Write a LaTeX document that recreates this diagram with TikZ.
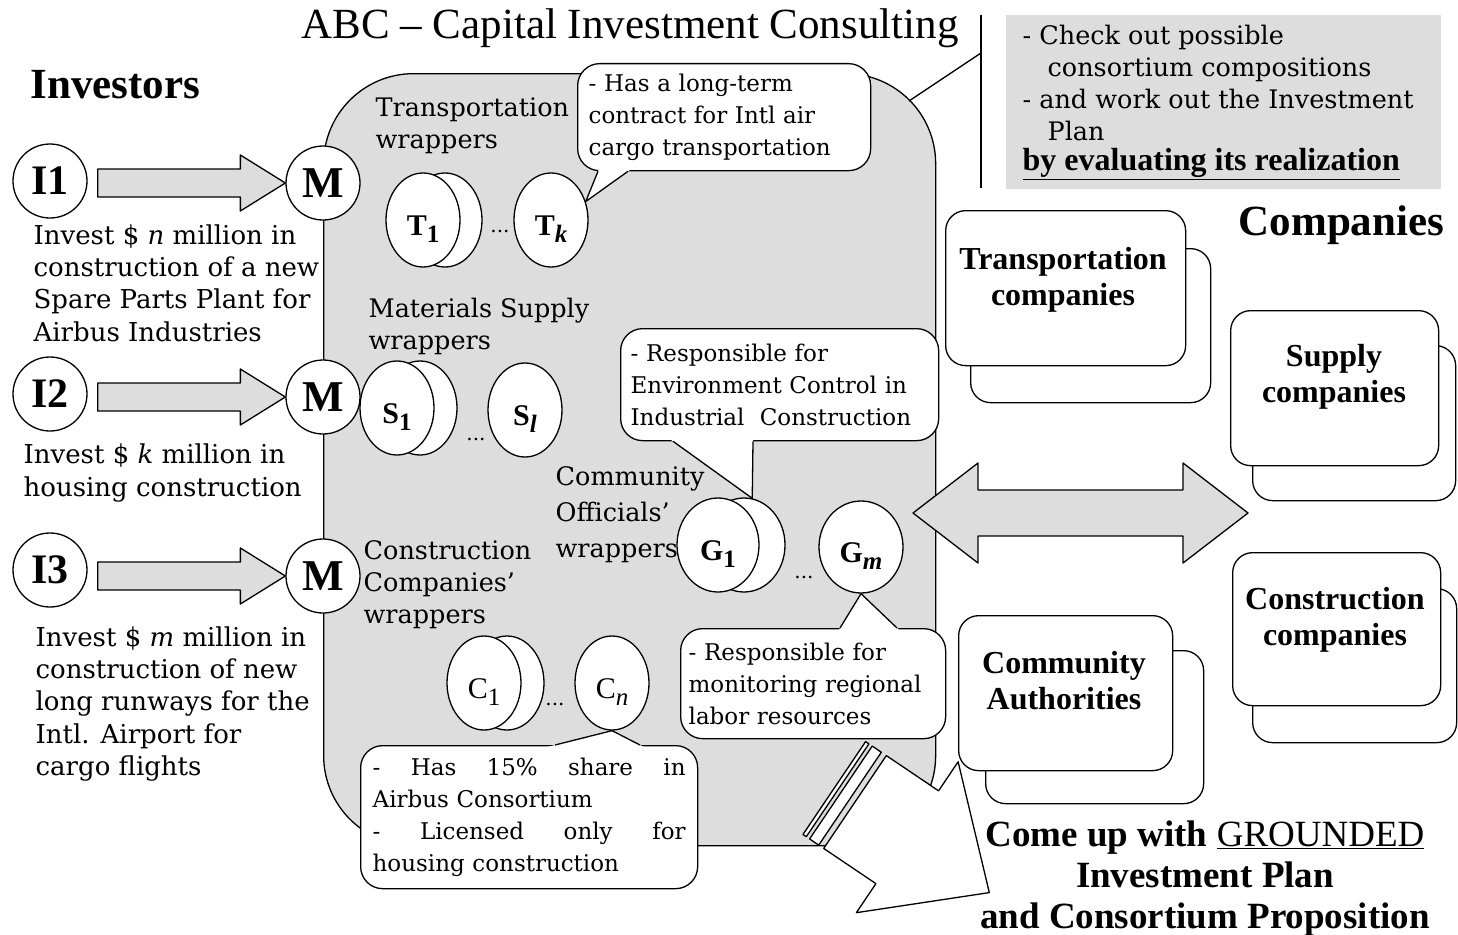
\documentclass[tikz,border=0pt]{standalone}
\usepackage{fontspec}
\setmainfont{DejaVu Serif}
\newfontfamily\tnr{Liberation Serif}
\usetikzlibrary{shapes.geometric,calc}
\definecolor{panel}{RGB}{221,221,221}
\newcommand\fs[2]{\fontsize{#1}{#2}\selectfont}
% block arrow from an investor circle to its manager circle
\newcommand\feedarrow[2]{%
  \draw[fill=panel] ($(#1.east |- #2.west)+(10,-14)$) -- ($(#2.west)+(-45,-14)$)
    -- ($(#2.west)+(-45,-28)$) -- (#2.west) -- ($(#2.west)+(-45,28)$)
    -- ($(#2.west)+(-45,14)$) -- ($(#1.east |- #2.west)+(10,14)$) -- cycle;}
% wedge of a callout: base points #1, #2 on the box edge, tip #3
\newcommand\notepointer[3]{%
  \fill[white] ($(#1)!-0.15!(#3)$) -- (#3) -- ($(#2)!-0.15!(#3)$) -- cycle;
  \draw (#1) -- (#3) -- (#2);}
% wrapper labels: bold letter with lowered index
\newcommand\wl[2]{{\tnr\bfseries\fs{30}{30}#1\raisebox{-7pt}{\fs{25}{25}#2}}}
\newcommand\wlr[2]{{\tnr\fs{30}{30}#1\raisebox{-7pt}{\fs{25}{25}#2}}}
\begin{document}
\begin{tikzpicture}[x=1pt,y=-1pt,line width=1.3pt,line join=round,
  every node/.style={inner sep=0pt},
  investor/.style={circle,draw,fill=white,minimum size=74pt,font=\tnr\bfseries\fs{42}{42}},
  manager/.style={investor,font=\tnr\bfseries\fs{44}{44}},
  wrap/.style={ellipse,draw,fill=white,minimum width=74pt,minimum height=94pt,text height=35pt,text depth=4pt},
  note/.style={draw,fill=white,rounded corners=22pt,anchor=north west,align=left,font=\fs{23}{32}},
  cobox/.style={draw,fill=white,rounded corners=20pt,anchor=north west},
  cotext/.style={font=\tnr\bfseries\fs{32}{36},align=center},
  lbl/.style={anchor=west,align=left,font=\fs{26}{32.3}},
  wlbl/.style={anchor=west,align=left,font=\fs{25.5}{32}},
  dots/.style={font=\fs{20}{20}}]
\useasboundingbox (0,0) rectangle (1458,934);

% consulting area
\node[draw,fill=panel,rounded corners=90pt,minimum width=612pt,minimum height=772pt,anchor=north west] (abc) at (323,73) {};
\node[font=\tnr\fs{43}{43}] (title) at (630,28) {ABC – Capital Investment Consulting};

% task description
\coordinate (vtop) at (981,15);
\coordinate (vbot) at (981,188);
\coordinate (vjoin) at (981,53);
\coordinate (arcpt) at (909,101);
\draw (vtop) -- (vbot);
\draw (arcpt) -- (vjoin);
\node[fill=panel,minimum width=435pt,minimum height=174pt,anchor=north west] (plan) at (1005,14) {};
\node[anchor=west,align=left,font=\fs{25.5}{32}] (plantext) at (1022,83)
  {- Check out possible\\\hspace*{25pt}consortium compositions\\- and work out the Investment\\\hspace*{25pt}Plan};
\node[anchor=west,font=\tnr\bfseries\fs{32}{32}] (planlast) at (1022,164) {\underline{by evaluating its realization}};

% investors
\node[anchor=west,font=\tnr\bfseries\fs{43}{43}] (invtitle) at (30,85) {Investors};
\node[investor] (i1) at (50,181) {I1};
\node[investor] (i2) at (50,394) {I2};
\node[investor] (i3) at (50,570) {I3};
\node[manager] (m1) at (323,183) {M};
\node[manager] (m2) at (323,397) {M};
\node[manager] (m3) at (323,576) {M};
\feedarrow{i1}{m1}
\feedarrow{i2}{m2}
\feedarrow{i3}{m3}
\node[lbl] (i1txt) at (33,283) {Invest \$ \textit{n} million in\\construction of a new\\Spare Parts Plant for\\Airbus Industries};
\node[lbl] (i2txt) at (23,473) {Invest \$ \textit{k} million in\\housing construction};
\node[lbl] (i3txt) at (35,704) {Invest \$ \textit{m} million in\\construction of new\\long runways for the\\Intl. Airport for\\cargo flights};

% wrapper groups
\node[wlbl] (twl) at (375,126) {Transportation\\wrappers};
\node[wlbl] (swl) at (368,326) {Materials Supply\\wrappers};
\node[wlbl,font=\fs{25.5}{36}] (gwl) at (555,515) {Community\\Officials'\\wrappers};
\node[wlbl] (cwl) at (363,585) {Construction\\Companies'\\wrappers};

\node[wrap] (t1b) at (445,220) {};
\node[wrap] (t1) at (423,220) {\wl{T}{1}};
\node[dots] (tdots) at (500,231) {...};
\node[wrap] (tk) at (551,220) {\wl{T}{\itshape k}};

\node[wrap] (s1b) at (420,408) {};
\node[wrap] (s1) at (397,408) {\wl{S}{1}};
\node[dots] (sdots) at (476,439) {...};
\node[wrap] (sl) at (525,410) {\wl{S}{\itshape l}};

\node[wrap,minimum width=82pt] (g1b) at (744,545) {};
\node[wrap,minimum width=82pt] (g1) at (718,545) {\wl{G}{1}};
\node[dots] (gdots) at (804,577) {...};
\node[wrap,minimum width=84pt,minimum height=92pt] (gm) at (861,547) {\wl{G}{\itshape m}};

\node[wrap] (c1b) at (507,683) {};
\node[wrap] (c1) at (484,683) {\wlr{C}{1}};
\node[dots] (cdots) at (555,704) {...};
\node[wrap] (cn) at (612,683) {\wlr{C}{\itshape n}};

% callouts
\node[note,minimum width=293pt,minimum height=107pt,inner xsep=11pt,text width=271pt] (tknote) at (577,63)
  {- Has a long-term\\contract for Intl air\\cargo transportation};
\coordinate (tkp1) at ($(tknote.south west)+(21,0)$);
\coordinate (tkp2) at ($(tknote.south west)+(51,0)$);
\notepointer{tkp1}{tkp2}{tk.28}

\node[note,minimum width=318pt,minimum height=112pt,inner xsep=10pt,text width=298pt] (g1note) at (620,328)
  {- Responsible for\\Environment Control in\\Industrial\ \ Construction};
\coordinate (g1p1) at ($(g1note.south west)+(53,0)$);
\coordinate (g1p2) at ($(g1note.south west)+(133,0)$);
\notepointer{g1p1}{g1p2}{g1b.80}

\node[note,minimum width=265pt,minimum height=110pt,inner xsep=8pt,text width=249pt] (gmnote) at (680,628)
  {- Responsible for\\monitoring regional\\labor resources};
\coordinate (gmp1) at ($(gmnote.north west)+(160,0)$);
\coordinate (gmp2) at ($(gmnote.north west)+(217,0)$);
\notepointer{gmp1}{gmp2}{gm.south}

\node[note,minimum width=337pt,minimum height=143pt,inner xsep=12pt,text width=313pt] (cnnote) at (360,745)
  {-\hfill Has\hfill 15\%\hfill share\hfill in\\Airbus Consortium\\-\hfill Licensed\hfill only\hfill for\\housing construction};
\coordinate (cnp1) at ($(cnnote.north west)+(195,0)$);
\coordinate (cnp2) at ($(cnnote.north west)+(280,0)$);
\notepointer{cnp1}{cnp2}{cn.south}

% outgoing striped arrow
\coordinate (outflow) at (855,802);
\begin{scope}[shift={(outflow)},rotate=-34]
  \draw[fill=white] (-25,-56) rectangle (-21,56);
  \draw[fill=white] (-17,-56) rectangle (-6,56);
  \draw[fill=white] (0,-56) -- (63,-56) -- (63,-91) -- (162,0) -- (63,91) -- (63,56) -- (0,56) -- cycle;
\end{scope}

% exchange with companies
\coordinate (dl) at (913,513);
\coordinate (dr) at (1248,513);
\draw[fill=panel] (dl) -- ($(dl)+(65,-50)$) -- ($(dl)+(65,-23)$) -- ($(dr)+(-65,-23)$)
  -- ($(dr)+(-65,-50)$) -- (dr) -- ($(dr)+(-65,50)$) -- ($(dr)+(-65,23)$)
  -- ($(dl)+(65,23)$) -- ($(dl)+(65,50)$) -- cycle;

% companies
\node[anchor=west,font=\tnr\bfseries\fs{43}{43}] (cotitle) at (1238,225) {Companies};

\node[cobox,minimum width=240pt,minimum height=154pt] (trback) at (970,248) {};
\node[cobox,minimum width=240pt,minimum height=155pt] (trfront) at (945,210) {};
\node[cotext] (trtext) at (1063,280) {Transportation\\companies};

\node[cobox,minimum width=203pt,minimum height=155pt] (suback) at (1252,345) {};
\node[cobox,minimum width=208pt,minimum height=155pt] (sufront) at (1230,310) {};
\node[cotext] (sutext) at (1334,377) {Supply\\companies};

\node[cobox,minimum width=204pt,minimum height=154pt] (coback) at (1252,588) {};
\node[cobox,minimum width=208pt,minimum height=153pt] (cofront) at (1232,552) {};
\node[cotext] (cotext) at (1335,620) {Construction\\companies};

\node[cobox,minimum width=218pt,minimum height=153pt] (caback) at (985,650) {};
\node[cobox,minimum width=214pt,minimum height=155pt] (cafront) at (958,615) {};
\node[cotext] (catext) at (1064,681) {Community\\Authorities};

\node[align=center,font=\tnr\bfseries\fs{37}{41}] (goal) at (1205,879)
  {Come up with {\mdseries\underline{GROUNDED}}\\Investment Plan\\and Consortium Proposition};
\end{tikzpicture}
\end{document}
